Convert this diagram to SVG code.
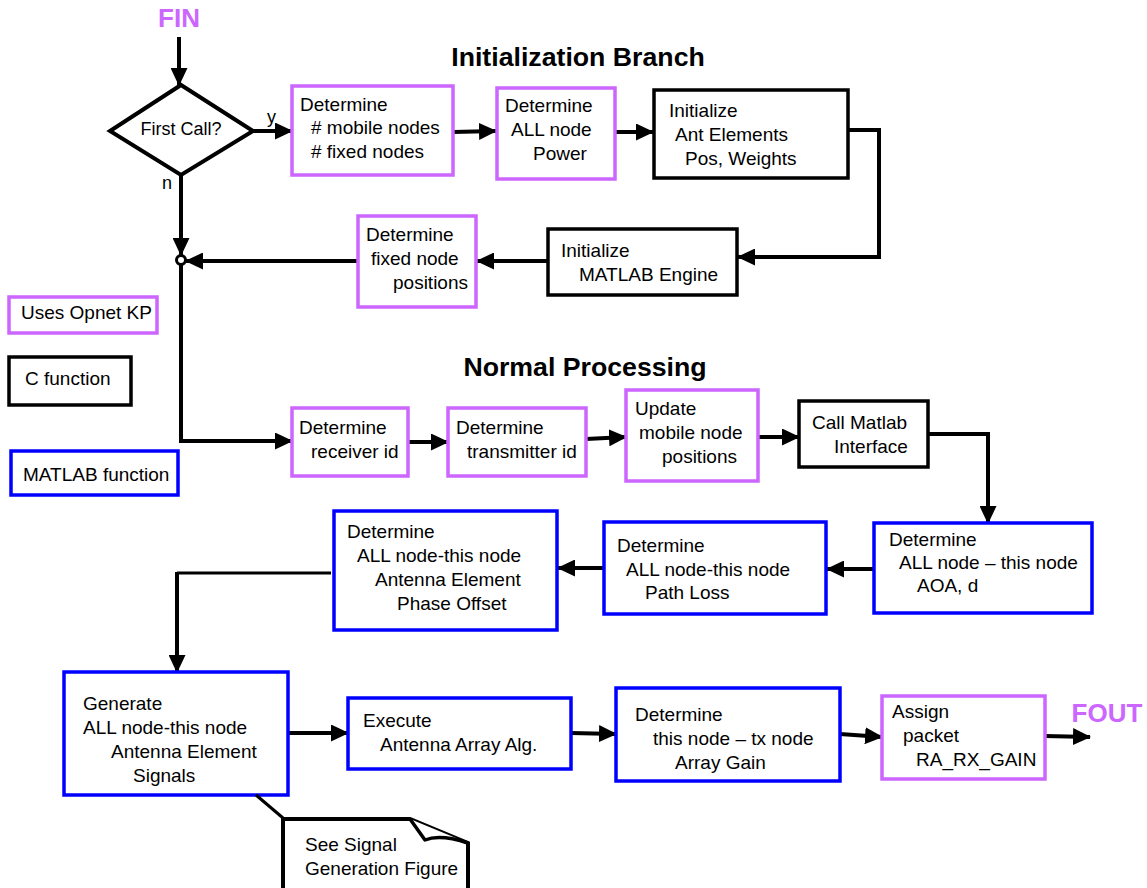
<svg xmlns="http://www.w3.org/2000/svg" width="1147" height="888" viewBox="0 0 1147 888">
  <style>
    text { font-family: "Liberation Sans", Arial, Helvetica, sans-serif; font-size: 19px; fill: #000; }
    .title { font-size: 26.7px; font-weight: bold; }
    .io { font-size: 26px; font-weight: bold; fill: #cc66ff; }
    .small { font-size: 18px; }
    .kp { fill: #fff; stroke: #cc66ff; stroke-width: 3.5; }
    .cf { fill: #fff; stroke: #000; stroke-width: 3.5; }
    .ml { fill: #fff; stroke: #0000ff; stroke-width: 3.5; }
    .conn { fill: none; stroke: #000; stroke-width: 4; }
    .thin { fill: none; stroke: #000; stroke-width: 3; }
  </style>
  <defs>
    <marker id="arrow" viewBox="0 0 18 17" refX="17" refY="8.5" markerWidth="18" markerHeight="17" markerUnits="userSpaceOnUse" orient="auto">
      <path d="M0,0 L18,8.5 L0,17 z" fill="#000"/>
    </marker>
  </defs>

  <rect width="1147" height="888" fill="#fff"/>

  <!-- section headings -->
  <text class="title" x="578" y="66" text-anchor="middle">Initialization Branch</text>
  <text class="title" x="585" y="376" text-anchor="middle">Normal Processing</text>

  <!-- entry / exit labels -->
  <text class="io" x="179" y="27" text-anchor="middle">FIN</text>
  <text class="io" x="1107" y="722" text-anchor="middle">FOUT</text>

  <!-- connectors -->
  <g id="connectors">
    <path class="conn" d="M179,37 V85" marker-end="url(#arrow)"/>
    <path class="conn" d="M253,131 H292" marker-end="url(#arrow)"/>
    <path class="conn" d="M181,175 V255" marker-end="url(#arrow)"/>
    <path class="conn" d="M181,265 V441 H292" marker-end="url(#arrow)"/>
    <path class="conn" d="M453,132 L496,131" marker-end="url(#arrow)"/>
    <path class="conn" d="M615,132 H653" marker-end="url(#arrow)"/>
    <path class="conn" d="M848,130 H879 V257 H738" marker-end="url(#arrow)"/>
    <path class="conn" d="M548,261 H477" marker-end="url(#arrow)"/>
    <path class="conn" d="M358,261 H186" marker-end="url(#arrow)"/>
    <path class="conn" d="M408,442 H448" marker-end="url(#arrow)"/>
    <path class="conn" d="M586,439 L626,437" marker-end="url(#arrow)"/>
    <path class="conn" d="M758,437 H799" marker-end="url(#arrow)"/>
    <path class="conn" d="M928,434 H988 V523" marker-end="url(#arrow)"/>
    <path class="conn" d="M873,569 H827" marker-end="url(#arrow)"/>
    <path class="conn" d="M604,568 H558" marker-end="url(#arrow)"/>
    <path class="thin" d="M331,573 H177"/>
    <path class="conn" d="M177,572 V672" marker-end="url(#arrow)"/>
    <path class="conn" d="M288,733 H348" marker-end="url(#arrow)"/>
    <path class="conn" d="M571,733 L616,734" marker-end="url(#arrow)"/>
    <path class="conn" d="M840,734 L882,737" marker-end="url(#arrow)"/>
    <path class="conn" d="M1045,736 L1090,737" marker-end="url(#arrow)"/>
    <circle cx="181" cy="260" r="4.5" fill="#fff" stroke="#000" stroke-width="3"/>
  </g>

  <!-- decision -->
  <g id="first-call">
    <polygon points="181,85 253,131 181,175 110,131" fill="#fff" stroke="#000" stroke-width="4"/>
    <text class="small" x="181" y="135" text-anchor="middle">First Call?</text>
    <text class="small" x="267" y="123">y</text>
    <text class="small" x="162" y="189">n</text>
  </g>

  <!-- initialization branch -->
  <g id="count-nodes">
    <rect class="kp" x="292" y="86" width="161" height="89"/>
    <text x="300" y="111">Determine</text>
    <text x="311" y="134"># mobile nodes</text>
    <text x="311" y="158"># fixed nodes</text>
  </g>
  <g id="node-power">
    <rect class="kp" x="497" y="88" width="118" height="91"/>
    <text x="505" y="112">Determine</text>
    <text x="511" y="136">ALL node</text>
    <text x="533" y="160">Power</text>
  </g>
  <g id="init-ant">
    <rect class="cf" x="654" y="90" width="194" height="88"/>
    <text x="669" y="117">Initialize</text>
    <text x="675" y="141">Ant Elements</text>
    <text x="685" y="165">Pos, Weights</text>
  </g>
  <g id="init-matlab">
    <rect class="cf" x="548" y="229" width="189" height="66"/>
    <text x="561" y="257">Initialize</text>
    <text x="579" y="281">MATLAB Engine</text>
  </g>
  <g id="fixed-positions">
    <rect class="kp" x="358" y="216" width="118" height="91"/>
    <text x="366" y="241">Determine</text>
    <text x="371" y="265">fixed node</text>
    <text x="393" y="289">positions</text>
  </g>

  <!-- legend -->
  <g id="legend-kp">
    <rect class="kp" x="9" y="297" width="148" height="36" stroke-width="3"/>
    <text x="21" y="319">Uses Opnet KP</text>
  </g>
  <g id="legend-c">
    <rect class="cf" x="9" y="357" width="122" height="48"/>
    <text x="25" y="385">C function</text>
  </g>
  <g id="legend-matlab">
    <rect class="ml" x="11" y="451" width="167" height="44"/>
    <text x="23" y="481">MATLAB function</text>
  </g>

  <!-- normal processing -->
  <g id="receiver-id">
    <rect class="kp" x="292" y="408" width="116" height="68"/>
    <text x="299" y="434">Determine</text>
    <text x="311" y="458">receiver id</text>
  </g>
  <g id="transmitter-id">
    <rect class="kp" x="448" y="408" width="138" height="68"/>
    <text x="456" y="434">Determine</text>
    <text x="467" y="458">transmitter id</text>
  </g>
  <g id="update-mobile">
    <rect class="kp" x="626" y="390" width="132" height="91"/>
    <text x="635" y="415">Update</text>
    <text x="639" y="439">mobile node</text>
    <text x="662" y="463">positions</text>
  </g>
  <g id="call-matlab">
    <rect class="cf" x="799" y="401" width="129" height="66"/>
    <text x="812" y="429">Call Matlab</text>
    <text x="834" y="453">Interface</text>
  </g>
  <g id="aoa">
    <rect class="ml" x="874" y="523" width="218" height="90"/>
    <text x="889" y="546">Determine</text>
    <text x="899" y="569">ALL node – this node</text>
    <text x="917" y="592">AOA, d</text>
  </g>
  <g id="path-loss">
    <rect class="ml" x="604" y="522" width="222" height="92"/>
    <text x="617" y="552">Determine</text>
    <text x="626" y="576">ALL node-this node</text>
    <text x="645" y="599">Path Loss</text>
  </g>
  <g id="phase-offset">
    <rect class="ml" x="334" y="511" width="223" height="119"/>
    <text x="347" y="538">Determine</text>
    <text x="357" y="562">ALL node-this node</text>
    <text x="375" y="586">Antenna Element</text>
    <text x="397" y="610">Phase Offset</text>
  </g>
  <g id="generate-signals">
    <rect class="ml" x="64" y="672" width="224" height="123"/>
    <text x="83" y="710">Generate</text>
    <text x="83" y="734">ALL node-this node</text>
    <text x="111" y="758">Antenna Element</text>
    <text x="133" y="782">Signals</text>
  </g>
  <g id="array-alg">
    <rect class="ml" x="348" y="698" width="223" height="71"/>
    <text x="363" y="727">Execute</text>
    <text x="380" y="751">Antenna Array Alg.</text>
  </g>
  <g id="array-gain">
    <rect class="ml" x="616" y="688" width="224" height="93"/>
    <text x="635" y="721">Determine</text>
    <text x="653" y="745">this node – tx node</text>
    <text x="675" y="769">Array Gain</text>
  </g>
  <g id="assign-gain">
    <rect class="kp" x="882" y="696" width="163" height="83"/>
    <text x="892" y="718">Assign</text>
    <text x="903" y="742">packet</text>
    <text x="916" y="766">RA_RX_GAIN</text>
  </g>

  <!-- annotation note with folded corner -->
  <g id="note">
    <path class="thin" d="M256,795 L283,818"/>
    <path d="M283,890 V819 H410 L468,843 V890" fill="#fff" stroke="#000" stroke-width="4" stroke-linejoin="miter"/>
    <path d="M410,819 L425,840 Q440,834 468,843" fill="#fff" stroke="#000" stroke-width="3.5" stroke-linejoin="round"/>
    <text x="305" y="851">See Signal</text>
    <text x="305" y="875">Generation Figure</text>
  </g>
</svg>
